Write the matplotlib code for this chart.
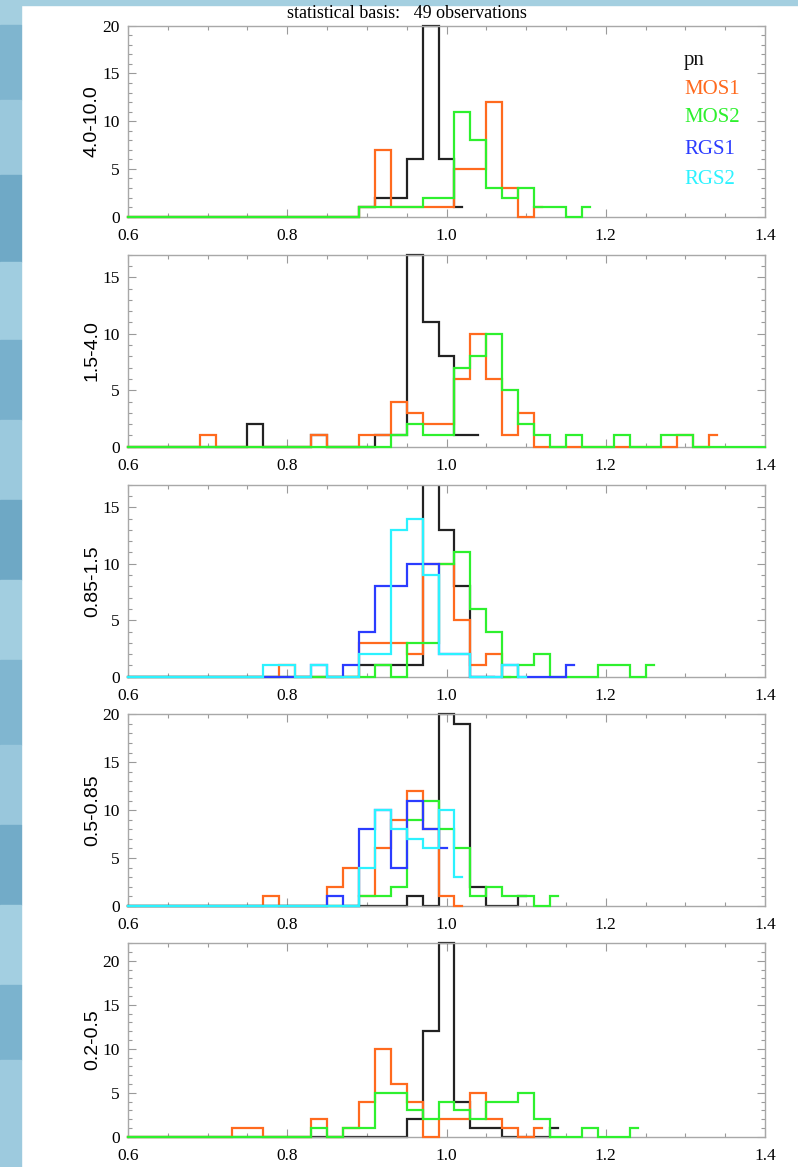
import numpy as np
import matplotlib
matplotlib.use("Agg")
import matplotlib.pyplot as plt
from matplotlib.patches import Rectangle
from matplotlib.ticker import MultipleLocator

# histogram counts, bin width 0.02, first value at the given bin centre
BIN = 0.02
X_MIN = 0.60

bands = ["4.0-10.0", "1.5-4.0", "0.85-1.5", "0.5-0.85", "0.2-0.5"]
y_max = [20, 17, 17, 20, 22]
instruments = ["pn", "MOS1", "MOS2", "RGS1", "RGS2"]

# 4.0-10.0 keV
pn_1 = (0.90, [1, 2, 2, 6, 20, 6, 1])
mos1_1 = (0.90, [1, 7, 1, 1, 1, 1, 5, 5, 12, 3, 0, 1])
mos2_1 = (0.90, [1, 1, 1, 1, 2, 2, 11, 8, 3, 2, 3, 1, 1, 0, 1])

# 1.5-4.0 keV
pn_2 = (0.76, [2, 0, 0, 0, 1, 0, 0, 0, 1, 1, 17, 11, 8, 1, 1])
mos1_2 = (0.70, [1, 0, 0, 0, 0, 0, 0, 1, 0, 0, 1, 1, 4, 3, 2, 2, 6, 10, 6, 1, 3,
                 0, 0, 0, 0, 0, 0, 0, 0, 0, 1, 0, 1])
mos2_2 = (0.94, [1, 2, 1, 1, 7, 8, 10, 5, 2, 1, 0, 1, 0, 0, 1, 0, 0, 1, 1,
                 0, 0, 0, 0, 0])

# 0.85-1.5 keV
pn_3 = (0.90, [1, 1, 1, 1, 20, 13, 8, 0, 0])
mos1_3 = (0.80, [1, 0, 0, 0, 0, 3, 3, 3, 2, 10, 10, 5, 1, 2, 0])
mos2_3 = (0.92, [1, 0, 3, 3, 10, 11, 6, 4, 0, 1, 2, 0, 0, 0, 1, 1, 0, 1])
rgs1_3 = (0.84, [1, 0, 1, 4, 8, 8, 10, 10, 2, 2, 0, 0, 1, 0, 0, 0, 1])
rgs2_3 = (0.78, [1, 1, 0, 1, 0, 0, 2, 2, 13, 14, 9, 2, 2, 0, 0, 1, 0])

# 0.5-0.85 keV
pn_4 = (0.96, [1, 0, 20, 19, 2, 0, 0, 1])
mos1_4 = (0.78, [1, 0, 0, 0, 2, 4, 1, 6, 9, 12, 8, 1, 0])
mos2_4 = (0.90, [1, 1, 2, 9, 11, 8, 6, 1, 2, 1, 1, 0, 1])
rgs1_4 = (0.86, [1, 0, 8, 10, 4, 11, 8, 6])
rgs2_4 = (0.90, [4, 10, 8, 7, 6, 10, 3])

# 0.2-0.5 keV
pn_5 = (0.96, [2, 12, 22, 4, 1, 1, 0, 0, 0, 1])
mos1_5 = (0.74, [1, 1, 0, 0, 0, 2, 0, 1, 4, 10, 6, 4, 0, 2, 2, 5, 2, 1, 0, 1])
mos2_5 = (0.84, [1, 0, 1, 1, 5, 5, 3, 2, 4, 3, 2, 4, 4, 5, 2, 0, 0, 1, 0, 0, 1])

panels = [
    [pn_1, mos1_1, mos2_1, None, None],
    [pn_2, mos1_2, mos2_2, None, None],
    [pn_3, mos1_3, mos2_3, rgs1_3, rgs2_3],
    [pn_4, mos1_4, mos2_4, rgs1_4, rgs2_4],
    [pn_5, mos1_5, mos2_5, None, None],
]

colors = ["#222222", "#ff6a1e", "#2ef02e", "#2b3cff", "#2cf2ff"]
label_colors = ["#111111", "#ff6a1e", "#2ef02e", "#2b3cff", "#2cf2ff"]

W, H = 798, 1167
fig = plt.figure(figsize=(W / 100, H / 100), dpi=100)

# blue tiled page background on the left edge and the top
shades = ["#a4cfe0", "#7fb5cf", "#9ac8dc", "#6fa9c6", "#a0cde0", "#78b0cc",
          "#9bc9dd", "#6ea8c5", "#a2cee0", "#80b6d0", "#99c7dc", "#72abc8",
          "#a3cfe1", "#7bb3ce", "#9dcade"]
edges = [0, 25, 100, 175, 262, 340, 420, 500, 580, 660, 745, 825, 905, 985,
         1060, 1167]
for i, c in enumerate(shades):
    y0, y1 = edges[i], edges[i + 1]
    fig.patches.append(Rectangle((0, 1 - y1 / H), 21 / W, (y1 - y0) / H,
                                 transform=fig.transFigure, color=c, zorder=0))
fig.patches.append(Rectangle((0, 1 - 5 / H), 1, 5 / H, transform=fig.transFigure,
                             color="#a4cfe0", zorder=0))

serif = "Liberation Serif"
tops = [25.7, 254.7, 484.7, 714.3, 943.3]
bottoms = [216.7, 446.7, 676.7, 906.0, 1136.7]
left, right = 128, 765

for p in range(5):
    ax = fig.add_axes([left / W, 1 - bottoms[p] / H, (right - left) / W,
                       (bottoms[p] - tops[p]) / H])
    for k, series in enumerate(panels[p]):
        if series is None:
            continue
        start, counts = series
        n_pad = int(round((start - X_MIN) / BIN))
        y = np.concatenate([np.zeros(n_pad), np.array(counts, dtype=float)])
        x = X_MIN + BIN * np.arange(len(y))
        ax.step(x, y, where="mid", color=colors[k], lw=1.6, zorder=2 + k,
                solid_joinstyle="miter", clip_on=max(counts) > y_max[p])
    ax.set_xlim(0.6, 1.4)
    ax.set_ylim(0, y_max[p])
    ax.xaxis.set_major_locator(MultipleLocator(0.2))
    ax.xaxis.set_minor_locator(MultipleLocator(0.05))
    ax.yaxis.set_major_locator(MultipleLocator(5))
    ax.yaxis.set_minor_locator(MultipleLocator(1))
    ax.set_xticklabels([f"{v:.1f}" for v in ax.get_xticks()])
    ax.tick_params(which="both", direction="in", top=True, right=True,
                   color="#9a9a9a", labelsize=12.5)
    ax.tick_params(which="major", length=6, width=0.8)
    ax.tick_params(which="minor", length=3, width=0.8)
    ax.tick_params(axis="x", pad=8)
    ax.tick_params(axis="y", pad=6)
    for lab in ax.get_xticklabels() + ax.get_yticklabels():
        lab.set_family(serif)
    for s in ax.spines.values():
        s.set_color("#a8a8a8")
        s.set_linewidth(1.0)
    ax.set_ylabel(bands[p], family="Liberation Sans", fontsize=14, labelpad=1)

    if p == 0:
        ys = [60, 89, 118, 149, 179]
        for k, name in enumerate(instruments):
            fig.text(684 / W, 1 - ys[k] / H, name, color=label_colors[k],
                     family=serif, fontsize=15, ha="left", va="center")

fig.text(407 / W, 1 - 14 / H, "statistical basis:   49 observations",
         family=serif, fontsize=13, ha="center", va="center")

fig.savefig("out.png", dpi=100)
